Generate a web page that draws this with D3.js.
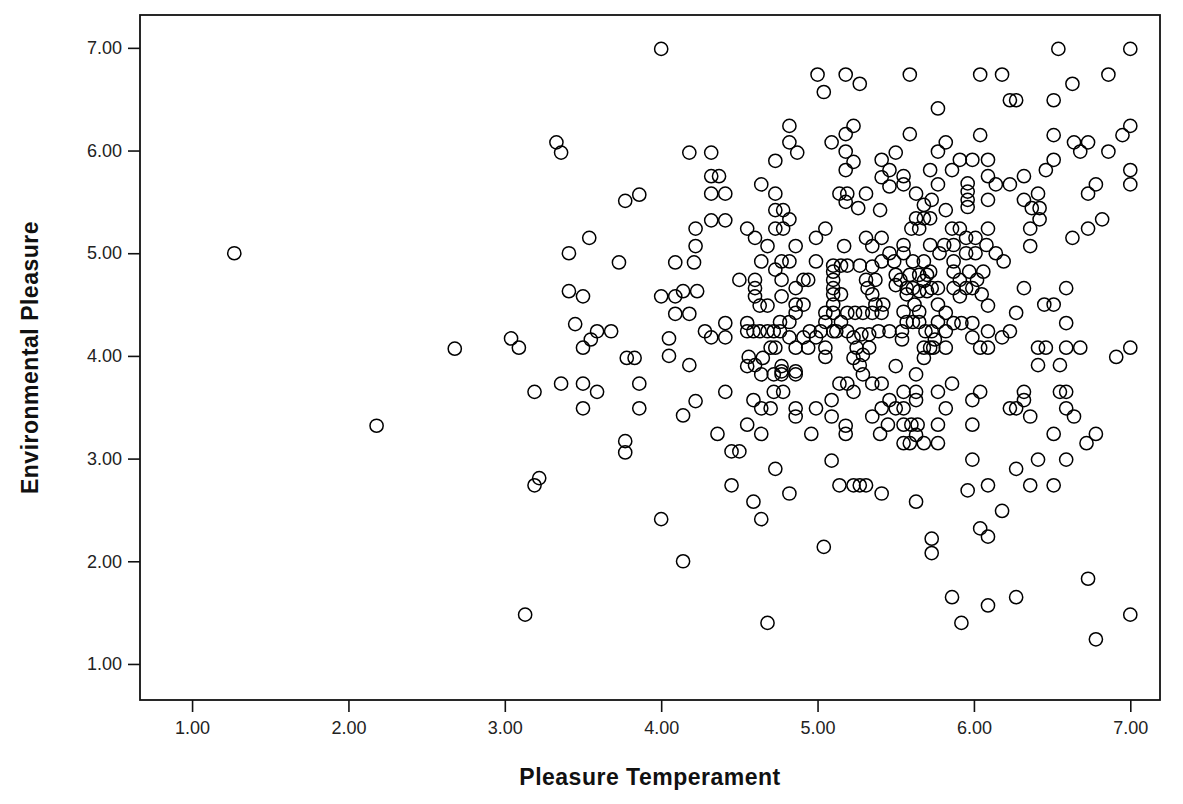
<!DOCTYPE html>
<html>
<head>
<meta charset="utf-8">
<script src="https://cdn.jsdelivr.net/npm/d3@7"></script>
<style>
	body { margin: 0; background: #fff; }
	.tick text { font-family: "Liberation Sans", Arial, sans-serif; font-size: 18px; fill: #222; }
	.axis-title { font-family: "Liberation Sans", Arial, sans-serif; font-size: 23px; font-weight: bold; fill: #111; letter-spacing: 0.5px; }
</style>
</head>
<body>
<div id="chart"></div>
<script>
"use strict";

const width = 1183, height = 804;
const margin = { top: 15, right: 23, bottom: 104, left: 140 };

//  Data: pleasure temperament (x) and environmental pleasure (y), one entry per respondent
const pleasureTemperament = [
	1.27, 2.18, 2.68, 3.04, 3.09, 3.13, 3.19, 3.22, 3.19, 3.33, 3.36, 3.36, 3.41, 3.41, 3.45, 3.50, 3.50, 3.50, 3.50, 3.54,
	3.55, 3.59, 3.59, 3.68, 3.73, 3.77, 3.77, 3.77, 3.78, 3.83, 3.86, 3.86, 3.86, 4.00, 4.00, 4.00, 4.05, 4.05, 4.09, 4.09,
	4.09, 4.14, 4.14, 4.14, 4.18, 4.18, 4.18, 4.22, 4.22, 4.21, 4.23, 4.22,
	5.00, 5.04, 5.18, 5.27, 5.59, 4.82, 4.82, 4.87, 5.23, 5.18, 5.09, 5.18, 5.23, 5.18, 5.59, 5.50, 5.41, 5.46, 5.41, 5.46,
	5.55, 5.55, 5.72, 5.63, 4.32, 4.73, 4.32, 4.37, 4.32, 4.41, 4.64, 4.73, 5.14, 5.19, 5.31,
	6.54, 7.00, 6.04, 6.18, 6.86, 6.63, 6.23, 6.27, 6.51, 5.77, 7.00, 6.95, 6.04, 6.51, 6.64, 6.73, 6.68, 6.86, 5.82, 5.77,
	5.91, 5.99, 6.09, 5.86, 6.09, 6.14, 6.23, 6.32, 6.51, 6.46, 7.00, 7.00, 6.78, 6.73, 5.77, 5.96, 5.96, 5.96, 6.41, 6.32,
	6.09, 5.73,
	4.73, 4.78, 4.82, 4.78, 4.73, 5.18, 5.26, 5.40, 5.68, 5.63, 5.68, 5.72, 5.60, 5.65, 4.32, 4.41, 4.55, 4.60, 4.68, 4.64,
	5.05, 4.99, 4.86, 5.17, 5.31, 5.41, 5.35, 5.46, 5.55, 5.55, 5.49, 5.41, 5.35, 4.77, 4.82, 4.73, 4.77, 4.99, 4.50, 4.60,
	4.60, 4.60, 4.63, 4.68, 4.77, 4.86, 4.91, 4.94, 5.10, 5.15, 5.19, 5.27, 5.10, 5.10, 5.10, 5.10, 5.15, 5.10, 5.31, 5.37,
	5.32, 5.35, 5.37, 5.42, 5.24, 5.29, 5.35, 5.41, 5.19, 5.10, 5.15, 5.05, 5.05, 5.02, 5.10, 4.95, 4.91, 4.86, 4.86, 4.82,
	4.76, 4.76, 4.72, 4.68, 4.59, 4.55, 4.55, 4.63, 4.41, 4.41, 4.28, 4.32, 4.82, 4.86, 4.91, 4.94, 4.99, 5.05, 5.12, 5.19,
	5.23, 5.28, 5.33, 5.39, 5.46, 5.25, 5.29, 5.33, 5.23, 5.27, 5.05, 4.56, 4.60, 4.65, 4.70, 4.73, 4.77, 4.86, 5.53, 5.57,
	5.62, 5.65, 5.68, 5.55, 5.57, 5.61, 5.65, 5.50, 5.50, 5.54, 5.54, 5.68, 5.68, 5.72, 5.61, 5.68, 5.59, 5.65, 5.70, 5.57,
	5.61, 5.65, 5.70,
	5.82, 5.96, 6.37, 6.42, 6.82, 6.73, 6.63, 6.42, 6.36, 6.36, 6.09, 5.91, 5.86, 5.72, 5.81, 5.87, 5.95, 6.01, 5.95, 6.01,
	6.08, 6.14, 6.19, 5.72, 5.78, 5.87, 5.87, 5.91, 5.97, 6.06, 6.02, 5.73, 5.77, 5.87, 5.95, 5.99, 6.05, 6.09, 5.91, 5.77,
	5.82, 5.77, 5.87, 5.82, 5.73, 5.69, 5.92, 5.99, 6.09, 5.99, 6.04, 6.09, 5.75, 5.82, 5.74, 6.18, 6.23, 6.27, 6.32, 6.45,
	6.51, 6.59, 6.59, 6.41, 6.46, 6.59, 6.68, 6.41, 6.55, 6.91, 7.00,
	4.55, 4.64, 4.72, 4.77, 4.86, 4.77, 4.41, 4.59, 4.64, 4.70, 4.72, 4.78, 4.86, 4.86, 4.55, 4.36, 4.64, 4.45, 4.50, 4.73,
	4.45, 4.82, 4.59, 4.64, 4.96, 4.99, 5.09, 5.09, 5.14, 5.19, 5.23, 5.29, 5.35, 5.41, 5.18, 5.18, 5.09, 5.14, 5.23, 5.27,
	5.31, 5.41, 5.63, 5.35, 5.41, 5.46, 5.50, 5.55, 5.40, 5.45, 5.55, 5.63, 5.63, 5.55, 5.60, 5.64, 5.55, 5.59, 5.68, 5.63,
	5.50, 5.63,
	5.77, 5.86, 5.82, 5.77, 5.77, 5.99, 6.04, 5.99, 5.99, 5.96, 6.09, 6.18, 6.04, 6.09, 6.23, 6.27, 6.32, 6.32, 6.36, 6.27,
	6.36, 6.41, 6.51, 6.51, 6.55, 6.59, 6.59, 6.64, 6.59, 6.72, 6.78,
	4.68, 5.04, 5.73, 5.73, 5.86, 5.92, 6.09, 6.27, 6.73, 6.78, 7.00
];

const environmentalPleasure = [
	5.00, 3.32, 4.07, 4.17, 4.08, 1.48, 2.74, 2.81, 3.65, 6.08, 5.98, 3.73, 5.00, 4.63, 4.31, 4.58, 4.08, 3.73, 3.49, 5.15,
	4.16, 4.24, 3.65, 4.24, 4.91, 5.51, 3.17, 3.06, 3.98, 3.98, 5.57, 3.73, 3.49, 6.99, 4.58, 2.41, 4.17, 4.00, 4.91, 4.58,
	4.41, 4.63, 3.42, 2.00, 5.98, 4.41, 3.91, 5.24, 5.07, 4.91, 4.63, 3.56,
	6.74, 6.57, 6.74, 6.65, 6.74, 6.24, 6.08, 5.98, 6.24, 6.16, 6.08, 5.99, 5.89, 5.81, 6.16, 5.98, 5.91, 5.81, 5.74, 5.65,
	5.75, 5.67, 5.81, 5.58, 5.98, 5.90, 5.75, 5.75, 5.58, 5.58, 5.67, 5.58, 5.58, 5.58, 5.58,
	6.99, 6.99, 6.74, 6.74, 6.74, 6.65, 6.49, 6.49, 6.49, 6.41, 6.24, 6.15, 6.15, 6.15, 6.08, 6.08, 5.99, 5.99, 6.08, 5.99,
	5.91, 5.91, 5.91, 5.81, 5.75, 5.67, 5.67, 5.75, 5.91, 5.81, 5.81, 5.67, 5.67, 5.58, 5.67, 5.68, 5.60, 5.52, 5.58, 5.52,
	5.52, 5.52,
	5.42, 5.42, 5.33, 5.24, 5.24, 5.50, 5.44, 5.42, 5.47, 5.34, 5.34, 5.34, 5.24, 5.24, 5.32, 5.32, 5.24, 5.15, 5.07, 4.92,
	5.24, 5.15, 5.07, 5.07, 5.15, 5.15, 5.07, 5.00, 5.08, 5.00, 4.92, 4.92, 4.87, 4.92, 4.92, 4.84, 4.74, 4.92, 4.74, 4.74,
	4.66, 4.58, 4.49, 4.49, 4.58, 4.66, 4.74, 4.74, 4.88, 4.88, 4.88, 4.88, 4.82, 4.74, 4.66, 4.60, 4.60, 4.50, 4.74, 4.74,
	4.66, 4.60, 4.50, 4.50, 4.42, 4.42, 4.42, 4.42, 4.42, 4.42, 4.33, 4.33, 4.42, 4.24, 4.24, 4.24, 4.50, 4.50, 4.42, 4.33,
	4.33, 4.24, 4.24, 4.24, 4.24, 4.24, 4.32, 4.24, 4.32, 4.18, 4.24, 4.18, 4.18, 4.08, 4.18, 4.08, 4.18, 4.08, 4.24, 4.24,
	4.18, 4.21, 4.21, 4.24, 4.24, 4.08, 4.01, 4.08, 3.98, 3.91, 3.99, 3.99, 3.91, 3.98, 4.08, 4.08, 3.85, 3.85, 4.74, 4.60,
	4.50, 4.43, 4.73, 4.43, 4.33, 4.33, 4.33, 4.79, 4.69, 4.24, 4.16, 4.08, 3.98, 4.08, 4.92, 4.92, 4.79, 4.79, 4.79, 4.66,
	4.66, 4.63, 4.63,
	5.42, 5.45, 5.44, 5.44, 5.33, 5.24, 5.15, 5.33, 5.24, 5.07, 5.24, 5.24, 5.24, 5.08, 5.08, 5.08, 5.15, 5.15, 5.00, 5.00,
	5.08, 5.00, 4.92, 4.82, 5.00, 4.92, 4.82, 4.74, 4.82, 4.82, 4.74, 4.66, 4.66, 4.66, 4.66, 4.66, 4.60, 4.49, 4.58, 4.50,
	4.42, 4.33, 4.32, 4.24, 4.24, 4.24, 4.32, 4.32, 4.24, 4.18, 4.08, 4.08, 4.16, 4.08, 4.08, 4.18, 4.24, 4.42, 4.66, 4.50,
	4.50, 4.66, 4.32, 4.08, 4.08, 4.08, 4.08, 3.91, 3.91, 3.99, 4.08,
	3.90, 3.82, 3.82, 3.82, 3.82, 3.90, 3.65, 3.57, 3.49, 3.49, 3.65, 3.65, 3.49, 3.41, 3.33, 3.24, 3.24, 3.07, 3.07, 2.90,
	2.74, 2.66, 2.58, 2.41, 3.24, 3.49, 3.57, 3.41, 3.73, 3.73, 3.65, 3.82, 3.73, 3.73, 3.32, 3.24, 2.98, 2.74, 2.74, 2.74,
	2.74, 2.66, 2.58, 3.41, 3.49, 3.57, 3.49, 3.49, 3.24, 3.33, 3.65, 3.65, 3.57, 3.33, 3.33, 3.33, 3.15, 3.15, 3.15, 3.23,
	3.90, 3.82,
	3.65, 3.73, 3.49, 3.33, 3.15, 3.57, 3.65, 3.33, 2.99, 2.69, 2.74, 2.49, 2.32, 2.24, 3.49, 3.49, 3.57, 3.65, 3.41, 2.90,
	2.74, 2.99, 2.74, 3.24, 3.65, 3.65, 3.49, 3.41, 2.99, 3.15, 3.24,
	1.40, 2.14, 2.22, 2.08, 1.65, 1.40, 1.57, 1.65, 1.83, 1.24, 1.48
];

const tickValues = [1, 2, 3, 4, 5, 6, 7];
const xTitle = 'Pleasure Temperament';
const yTitle = 'Environmental Pleasure';

const points = pleasureTemperament.map((value, i) => ({ x: value, y: environmentalPleasure[i] }));

let svg = d3.select('#chart').append('svg')
	.attr('width', width)
	.attr('height', height);

const plotWidth = width - margin.left - margin.right;
const plotHeight = height - margin.top - margin.bottom;

let x = d3.scaleLinear()
	.domain([0.667, 7.19])
	.range([margin.left, margin.left + plotWidth]);

let y = d3.scaleLinear()
	.domain([0.649, 7.32])
	.range([margin.top + plotHeight, margin.top]);

//  Axes
let xAxis = svg.append('g')
	.attr('transform', `translate(0, ${margin.top + plotHeight})`)
	.call(d3.axisBottom(x).tickValues(tickValues).tickFormat(d3.format('.2f')).tickSize(12).tickSizeOuter(0).tickPadding(9));

let yAxis = svg.append('g')
	.attr('transform', `translate(${margin.left}, 0)`)
	.call(d3.axisLeft(y).tickValues(tickValues).tickFormat(d3.format('.2f')).tickSize(12).tickSizeOuter(0).tickPadding(6));

[xAxis, yAxis].forEach(axis => {
	axis.select('.domain').remove();
	axis.selectAll('.tick line').attr('stroke', '#111').attr('stroke-width', 1.6);
});

//  Frame
svg.append('rect')
	.attr('x', margin.left)
	.attr('y', margin.top)
	.attr('width', plotWidth)
	.attr('height', plotHeight)
	.attr('fill', 'none')
	.attr('stroke', '#111')
	.attr('stroke-width', 1.8);

//  Points
svg.append('g')
	.selectAll('circle')
	.data(points)
	.join('circle')
		.attr('cx', d => x(d.x))
		.attr('cy', d => y(d.y))
		.attr('r', 6.6)
		.attr('fill', 'none')
		.attr('stroke', '#000')
		.attr('stroke-width', 1.5);

//  Titles
svg.append('text')
	.classed('axis-title', true)
	.attr('x', margin.left + plotWidth / 2)
	.attr('y', 785)
	.attr('text-anchor', 'middle')
	.text(xTitle);

svg.append('text')
	.classed('axis-title', true)
	.attr('transform', `translate(38, ${margin.top + plotHeight / 2}) rotate(-90)`)
	.attr('text-anchor', 'middle')
	.text(yTitle);
</script>
</body>
</html>
